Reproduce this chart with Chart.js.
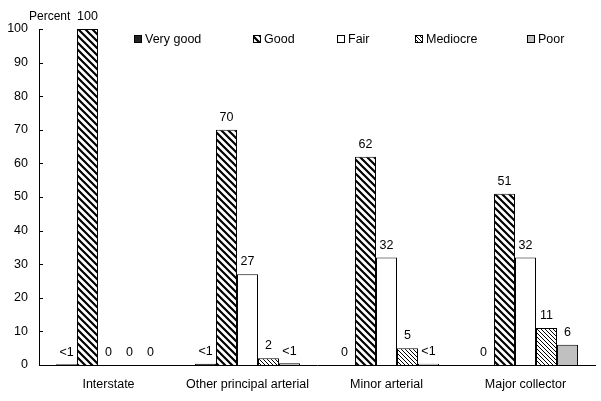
<!DOCTYPE html>
<html>
<head>
<meta charset="utf-8">
<script src="https://cdn.jsdelivr.net/npm/chart.js@4/dist/chart.umd.min.js"></script>
<style>
  body { margin: 0; background: #fff; }
</style>
</head>
<body>
<canvas id="chart" width="601" height="401"></canvas>
<script>
const categories = ["Interstate", "Other principal arterial", "Minor arterial", "Major collector"];
const seriesNames = ["Very good", "Good", "Fair", "Mediocre", "Poor"];

// values (small "<1" values drawn as tiny bars)
const veryGood = [0.2, 0.4, 0, 0];
const good = [100, 70, 62, 51];
const fair = [0, 27, 32, 32];
const mediocre = [0, 2, 5, 11];
const poor = [0, 0.5, 0.4, 6];

// printed labels above bars
const veryGoodLabels = ["<1", "<1", "0", "0"];
const goodLabels = ["100", "70", "62", "51"];
const fairLabels = ["0", "27", "32", "32"];
const mediocreLabels = ["0", "2", "5", "11"];
const poorLabels = ["0", "<1", "<1", "6"];

const yTicks = [0, 10, 20, 30, 40, 50, 60, 70, 80, 90, 100];

const FONT = "Liberation Sans, Arial, sans-serif";

function hatch(size, width, color) {
    const c = document.createElement("canvas");
    c.width = size; c.height = size;
    const g = c.getContext("2d");
    g.fillStyle = "#fff";
    g.fillRect(0, 0, size, size);
    g.strokeStyle = color;
    g.lineWidth = width;
    // "\" direction stripes
    g.beginPath();
    g.moveTo(-size, 0); g.lineTo(size, 2 * size);
    g.moveTo(0, 0); g.lineTo(size, size);
    g.moveTo(0, -size); g.lineTo(2 * size, size);
    g.stroke();
    return g.createPattern(c, "repeat");
}

const ctx = document.getElementById("chart").getContext("2d");
const goodFill = hatch(7, 2.2, "#000");
const mediocreFill = hatch(4, 1, "#000");

const fills = ["#222222", goodFill, "#ffffff", mediocreFill, "#c0c0c0"];
const values = [veryGood, good, fair, mediocre, poor];
const labels = [veryGoodLabels, goodLabels, fairLabels, mediocreLabels, poorLabels];

// legend positions (x of box) as in the original figure
const legendX = [134, 253, 337, 415, 527];

const legendPlugin = {
    id: "fixedLegend",
    afterDraw(chart) {
        const c = chart.ctx;
        c.save();
        c.font = "12.5px " + FONT;
        c.textBaseline = "middle";
        seriesNames.forEach((name, i) => {
            c.fillStyle = fills[i];
            c.fillRect(legendX[i], 35, 8, 8);
            c.strokeStyle = "#000";
            c.lineWidth = 1;
            c.strokeRect(legendX[i] + 0.5, 35.5, 7, 7);
            c.fillStyle = "#000";
            c.fillText(name, legendX[i] + 11, 40);
        });
        // axis title
        c.font = "12px " + FONT;
        c.textAlign = "left";
        c.fillText("Percent", 29, 17);

        // inward tick marks on the y axis
        const y = chart.scales.y;
        const x0 = chart.chartArea.left;
        c.strokeStyle = "#000";
        c.beginPath();
        yTicks.forEach(v => {
            const py = Math.round(y.getPixelForValue(v)) + 0.5;
            c.moveTo(x0, py);
            c.lineTo(x0 + 4, py);
        });
        c.stroke();
        c.restore();
    }
};

const labelPlugin = {
    id: "barLabels",
    afterDatasetsDraw(chart) {
        const c = chart.ctx;
        c.save();
        c.font = "12.5px " + FONT;
        c.fillStyle = "#000";
        c.textAlign = "center";
        c.textBaseline = "bottom";
        chart.data.datasets.forEach((ds, i) => {
            chart.getDatasetMeta(i).data.forEach((bar, j) => {
                c.fillText(labels[i][j], bar.x, bar.y - 6);
            });
        });
        c.restore();
    }
};

new Chart(ctx, {
    type: "bar",
    data: {
        labels: categories,
        datasets: seriesNames.map((name, i) => ({
            label: name,
            data: values[i],
            backgroundColor: fills[i],
            borderColor: "#000",
            borderWidth: 1,
            categoryPercentage: 0.755,
            barPercentage: 1
        }))
    },
    options: {
        responsive: false,
        devicePixelRatio: 1,
        animation: false,
        layout: { padding: { top: 29, right: 6, left: 0, bottom: 0 } },
        plugins: {
            legend: { display: false },
            tooltip: { enabled: false }
        },
        scales: {
            x: {
                afterFit: axis => { axis.height = 36; },
                grid: { display: false, drawTicks: false },
                border: { color: "#000", width: 1 },
                ticks: { color: "#000", font: { family: FONT, size: 12.5 }, padding: 12, maxRotation: 0 }
            },
            y: {
                min: 0,
                max: 100,
                afterBuildTicks: axis => { axis.ticks = yTicks.map(v => ({ value: v })); },
                afterFit: axis => { axis.width = 39; },
                grid: { display: false, drawOnChartArea: false, drawTicks: false },
                border: { color: "#000", width: 1 },
                ticks: { color: "#000", font: { family: FONT, size: 12.5 }, padding: 11 }
            }
        }
    },
    plugins: [legendPlugin, labelPlugin]
});
</script>
</body>
</html>
